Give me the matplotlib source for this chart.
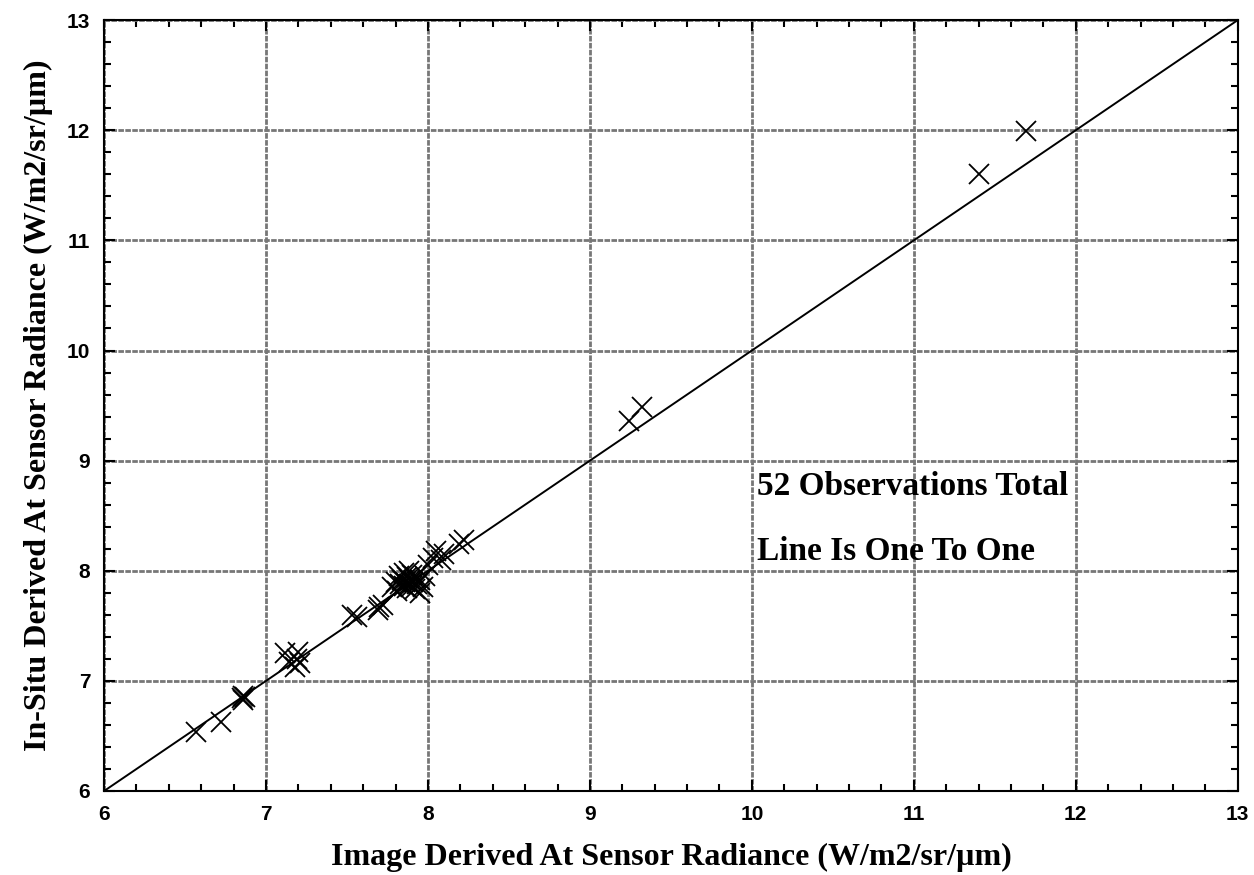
import matplotlib
matplotlib.use("Agg")
import matplotlib.pyplot as plt
from matplotlib.ticker import MultipleLocator

# image derived (x) vs in-situ (y) radiance
image_radiance = [
    6.57, 6.72, 6.85, 6.86, 6.87, 6.86,
    7.12, 7.14, 7.18, 7.20, 7.21, 7.19,
    7.53, 7.56,
    7.69, 7.70, 7.72,
    7.78, 7.80, 7.81, 7.82, 7.83, 7.84, 7.85, 7.85, 7.86, 7.87,
    7.87, 7.88, 7.88, 7.89, 7.90, 7.90, 7.91, 7.92, 7.92, 7.93,
    7.95, 7.95, 7.97, 7.98, 8.00,
    8.03, 8.05, 8.08, 8.10, 8.19, 8.22,
    9.24, 9.32,
    11.40, 11.69,
]
insitu_radiance = [
    6.54, 6.63, 6.84, 6.86, 6.85, 6.83,
    7.25, 7.17, 7.13, 7.26, 7.16, 7.20,
    7.60, 7.58,
    7.64, 7.67, 7.69,
    7.85, 7.90, 7.82, 7.95, 7.88, 7.92, 7.86, 7.98, 7.90, 7.84,
    7.94, 7.88, 8.00, 7.92, 7.86, 7.96, 7.90, 7.83, 7.94, 7.88,
    7.80, 7.92, 7.85, 7.95, 8.05,
    8.12, 8.18, 8.10, 8.15, 8.24, 8.28,
    9.36, 9.49,
    11.60, 11.99,
]
axis_range = [6, 13]

serif_bold = dict(family="Liberation Serif", weight="bold")

fig = plt.figure(figsize=(12.54, 8.75), dpi=100)
ax = fig.add_axes([0.083, 0.096, 0.904, 0.881])

ax.plot(axis_range, axis_range, color="black", lw=1.4, zorder=3)
ax.plot(image_radiance, insitu_radiance, linestyle="none", marker="x",
        markersize=15, markeredgewidth=1.3, color="black", zorder=4)

ax.set_xlim(axis_range)
ax.set_ylim(axis_range)
ax.xaxis.set_major_locator(MultipleLocator(1))
ax.yaxis.set_major_locator(MultipleLocator(1))
ax.xaxis.set_minor_locator(MultipleLocator(0.2))
ax.yaxis.set_minor_locator(MultipleLocator(0.2))
ax.grid(True, which="major", color="#777777", lw=2.0, linestyle=(0, (2, 0.5)), zorder=1)

ax.tick_params(which="both", direction="in", top=True, right=True, width=1.5)
ax.tick_params(which="major", length=8)
ax.tick_params(which="minor", length=5)
for lbl in ax.get_xticklabels() + ax.get_yticklabels():
    lbl.set_family("Liberation Sans")
    lbl.set_weight("bold")
    lbl.set_fontsize(15)
ax.tick_params(axis="x", pad=10)
ax.tick_params(axis="y", pad=10)
for sp in ax.spines.values():
    sp.set_linewidth(1.5)

ax.set_xlabel("Image Derived At Sensor Radiance (W/m2/sr/\u00b5m)", fontsize=23, labelpad=14, **serif_bold)
ax.set_ylabel("In-Situ Derived At Sensor Radiance (W/m2/sr/\u00b5m)", fontsize=23, labelpad=10, **serif_bold)

ax.text(10.03, 8.69, "52 Observations Total", fontsize=24, **serif_bold)
ax.text(10.03, 8.10, "Line Is One To One", fontsize=24, **serif_bold)

fig.savefig("out.png", dpi=100)
